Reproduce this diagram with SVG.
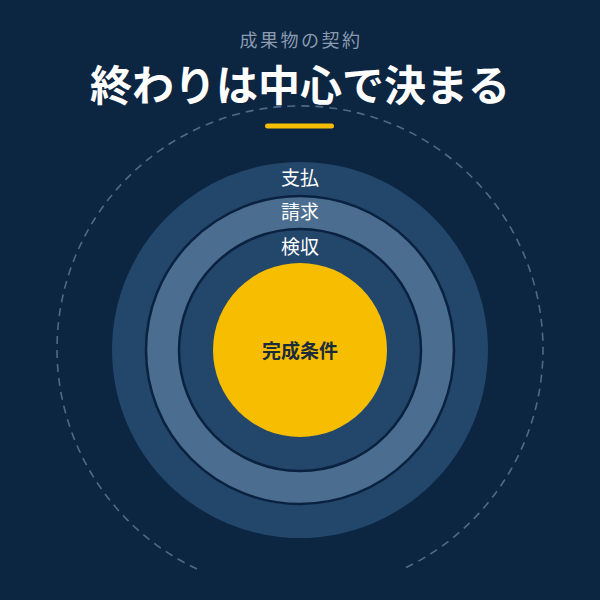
<svg xmlns="http://www.w3.org/2000/svg" width="600" height="600" viewBox="0 0 600 600">
<style>
.jp{font-family:"Noto Sans CJK JP","Noto Sans",sans-serif;text-anchor:middle;dominant-baseline:central}
.ring-dark{fill:#23466b}
.ring-light{fill:#4b6e90}
.sep{stroke:#0a2240;stroke-width:2.5}
.lbl{fill:#ffffff;font-size:19px;font-weight:400}
</style>
<rect width="600" height="600" fill="#0c2541"/>
<g id="header">
<text class="jp" x="301" y="39" font-size="18" letter-spacing="2.5" fill="#8a9bb0">成果物の契約</text>
<text class="jp" x="300" y="82" font-size="42" font-weight="700" fill="#ffffff">終わりは中心で決まる</text>
<line x1="267.5" y1="126" x2="331.5" y2="126" stroke="#f7bd00" stroke-width="5" stroke-linecap="round"/>
</g>
<g id="boundary">
<path d="M 197 569 A 243 243 0 1 1 403 569" fill="none" stroke="#4f6a88" stroke-width="1.6" stroke-dasharray="8 6"/>
</g>
<g id="ring-payment">
<circle class="ring-dark" cx="300" cy="350" r="188"/>
<text class="jp lbl" x="300" y="176">支払</text>
</g>
<g id="ring-invoice">
<circle class="ring-light sep" cx="300" cy="350" r="154"/>
<text class="jp lbl" x="300" y="210">請求</text>
</g>
<g id="ring-inspection">
<circle class="ring-dark sep" cx="300" cy="350" r="121"/>
<text class="jp lbl" x="300" y="245">検収</text>
</g>
<g id="core">
<circle cx="300" cy="350" r="87" fill="#f7bd00"/>
<text class="jp" x="300" y="349" font-size="19" font-weight="700" fill="#1c2b3b">完成条件</text>
</g>
<g id="connectors"></g>
</svg>
